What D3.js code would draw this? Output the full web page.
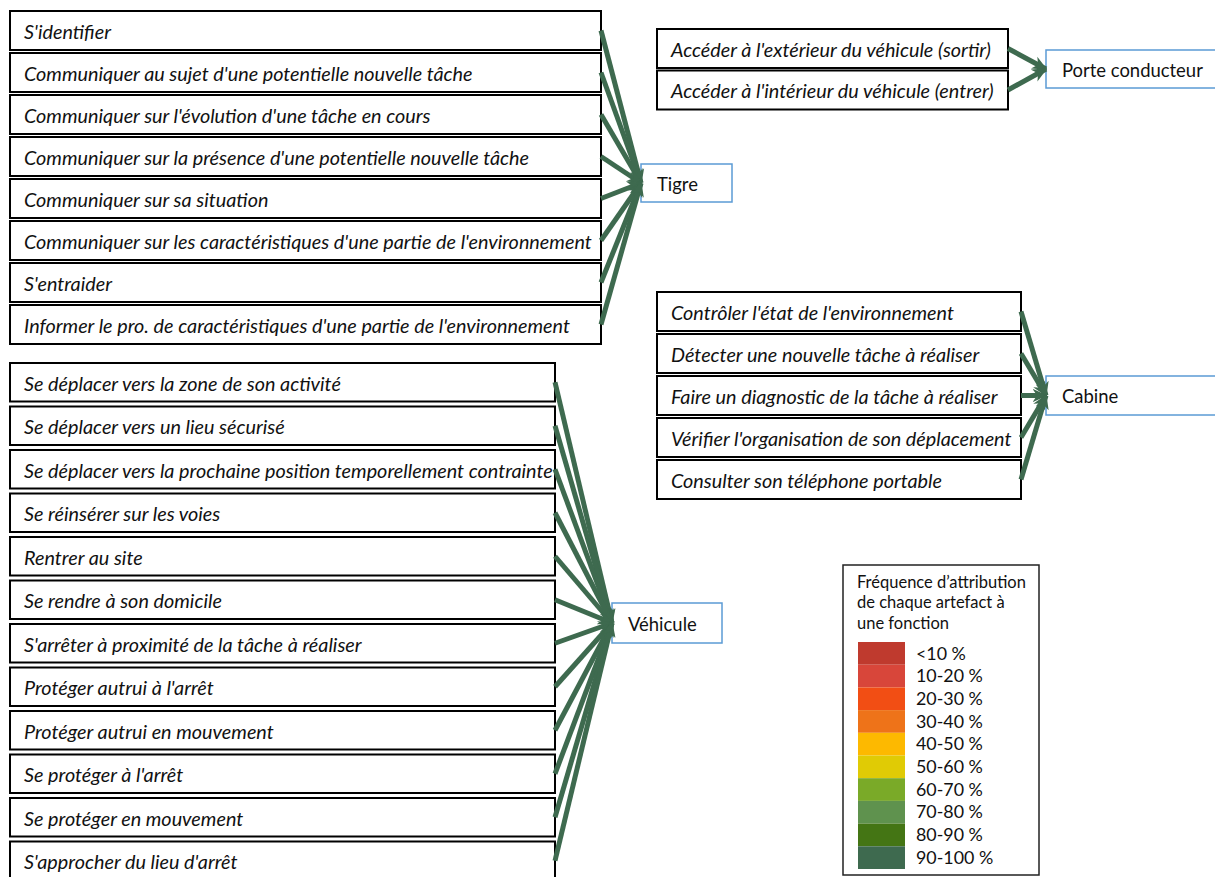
<!DOCTYPE html>
<html>
<head>
<meta charset="utf-8">
<script src="https://cdn.jsdelivr.net/npm/d3@7"></script>
<style>
  body { margin: 0; background: #fff; }
  svg { display: block; }
</style>
</head>
<body>
<div id="chart"></div>
<script>
// functions attributed to each artefact
const tigreFunctions = [
  "S'identifier",
  "Communiquer au sujet d'une potentielle nouvelle tâche",
  "Communiquer sur l'évolution d'une tâche en cours",
  "Communiquer sur la présence d'une potentielle nouvelle tâche",
  "Communiquer sur sa situation",
  "Communiquer sur les caractéristiques d'une partie de l'environnement",
  "S'entraider",
  "Informer le pro. de caractéristiques d'une partie de l'environnement"
];
const vehiculeFunctions = [
  "Se déplacer vers la zone de son activité",
  "Se déplacer vers un lieu sécurisé",
  "Se déplacer vers la prochaine position temporellement contrainte",
  "Se réinsérer sur les voies",
  "Rentrer au site",
  "Se rendre à son domicile",
  "S'arrêter à proximité de la tâche à réaliser",
  "Protéger autrui à l'arrêt",
  "Protéger autrui en mouvement",
  "Se protéger à l'arrêt",
  "Se protéger en mouvement",
  "S'approcher du lieu d'arrêt"
];
const porteFunctions = [
  "Accéder à l'extérieur du véhicule (sortir)",
  "Accéder à l'intérieur du véhicule (entrer)"
];
const cabineFunctions = [
  "Contrôler l'état de l'environnement",
  "Détecter une nouvelle tâche à réaliser",
  "Faire un diagnostic de la tâche à réaliser",
  "Vérifier l'organisation de son déplacement",
  "Consulter son téléphone portable"
];

// attribution frequency (%) of each link, all in the top class
const tigreFreq    = [95, 95, 95, 95, 95, 95, 95, 95];
const vehiculeFreq = [95, 95, 95, 95, 95, 95, 95, 95, 95, 95, 95, 95];
const porteFreq    = [95, 95];
const cabineFreq   = [95, 95, 95, 95, 95];

const artefacts = ["Tigre", "Véhicule", "Porte conducteur", "Cabine"];

// legend classes
const legendLabels = ["<10 %", "10-20 %", "20-30 %", "30-40 %", "40-50 %",
                      "50-60 %", "60-70 %", "70-80 %", "80-90 %", "90-100 %"];
const legendColors = ["#bf3a2e", "#d8463a", "#f24e14", "#ee7319", "#fdb900",
                      "#e0cb05", "#7aaa28", "#5f924e", "#447514", "#3e6a4f"];
const legendTitle = ["Fréquence d\u2019attribution", "de chaque artefact à", "une fonction"];

const W = 1215, H = 877;
const freqColor = d3.scaleThreshold()
    .domain([10, 20, 30, 40, 50, 60, 70, 80, 90])
    .range(legendColors);

const svg = d3.select("#chart").append("svg")
    .attr("width", W)
    .attr("height", H);

const fontFam = "Lato, 'Open Sans', sans-serif";

// measure helper, used to size the font like the original
function textWidth(str, size, style) {
  const t = svg.append("text")
      .style("font-family", fontFam)
      .style("font-style", style)
      .style("font-size", size + "px")
      .text(str);
  const w = t.node().getComputedTextLength();
  t.remove();
  return w;
}
const boxFont = 16 * 568 / textWidth(tigreFunctions[5], 16, "italic");
const artFont = 16 * 141 / textWidth(artefacts[2], 16, "normal");
const legendFont = 14 * 169 / textWidth(legendTitle[0], 14, "normal");

// arrow head
const defs = svg.append("defs");
defs.append("marker")
    .attr("id", "head")
    .attr("viewBox", "0 0 10 10")
    .attr("refX", 9)
    .attr("refY", 5)
    .attr("markerUnits", "userSpaceOnUse")
    .attr("markerWidth", 15)
    .attr("markerHeight", 15)
    .attr("orient", "auto")
  .append("path")
    .attr("d", "M0,0.5 L10,5 L0,9.5 L3,5 Z")
    .attr("fill", legendColors[9]);

// groups: list of functions linking to one artefact box
const groups = [
  { items: tigreFunctions, freq: tigreFreq, artefact: artefacts[0],
    x: 10, w: 591, top: 11, step: 42, bh: 39,
    box: { x: 641, y: 164, w: 91, h: 38 } },
  { items: vehiculeFunctions, freq: vehiculeFreq, artefact: artefacts[1],
    x: 10, w: 545, top: 363, step: 43.5, bh: 38.5,
    box: { x: 612, y: 603, w: 110, h: 40 } },
  { items: porteFunctions, freq: porteFreq, artefact: artefacts[2],
    x: 657, w: 351, top: 29, step: 41.5, bh: 39,
    box: { x: 1046, y: 50, w: 200, h: 38 } },
  { items: cabineFunctions, freq: cabineFreq, artefact: artefacts[3],
    x: 657, w: 364, top: 292, step: 42, bh: 39,
    box: { x: 1046, y: 376, w: 200, h: 39 } }
];

groups.forEach(gr => {
  const n = gr.items.length;
  const y = d3.scaleBand()
      .domain(gr.items)
      .range([gr.top, gr.top + gr.step * n - (gr.step - gr.bh)])
      .paddingInner((gr.step - gr.bh) / gr.step)
      .paddingOuter(0);

  const g = svg.append("g");

  const rows = g.selectAll("g.row")
      .data(gr.items)
      .join("g")
      .attr("class", "row");

  rows.append("rect")
      .attr("x", gr.x)
      .attr("y", d => y(d))
      .attr("width", gr.w)
      .attr("height", y.bandwidth())
      .attr("fill", "#fff")
      .attr("stroke", "#000")
      .attr("stroke-width", 2);

  rows.append("text")
      .attr("x", gr.x + 14)
      .attr("y", d => y(d) + y.bandwidth() / 2 + 1.5)
      .attr("dy", "0.35em")
      .style("font-family", fontFam)
      .style("font-style", "italic")
      .style("font-size", boxFont + "px")
      .attr("fill", "#111")
      .text(d => d);

  // artefact box
  const b = gr.box;
  g.append("rect")
      .attr("x", b.x)
      .attr("y", b.y)
      .attr("width", b.w)
      .attr("height", b.h)
      .attr("fill", "#fff")
      .attr("stroke", "#5b9bd5")
      .attr("stroke-width", 1.5);
  g.append("text")
      .attr("x", b.x + 16)
      .attr("y", b.y + b.h / 2 + 1.5)
      .attr("dy", "0.35em")
      .style("font-family", fontFam)
      .style("font-size", artFont + "px")
      .attr("fill", "#111")
      .text(gr.artefact);

  // links
  const tx = b.x, ty = b.y + b.h / 2;
  g.selectAll("line.link")
      .data(gr.items)
      .join("line")
      .attr("class", "link")
      .attr("x1", gr.x + gr.w)
      .attr("y1", d => y(d) + y.bandwidth() / 2)
      .attr("x2", tx)
      .attr("y2", ty)
      .attr("stroke", (d, i) => freqColor(gr.freq[i]))
      .attr("stroke-width", 5)
      .attr("marker-end", "url(#head)");
});

// legend
const leg = svg.append("g").attr("transform", "translate(843,565)");
leg.append("rect")
    .attr("width", 196)
    .attr("height", 310)
    .attr("fill", "#fff")
    .attr("stroke", "#222")
    .attr("stroke-width", 1.5);

leg.selectAll("text.title")
    .data(legendTitle)
    .join("text")
    .attr("class", "title")
    .attr("x", 14)
    .attr("y", (d, i) => 17 + i * 20.5)
    .attr("dy", "0.35em")
    .style("font-family", fontFam)
    .style("font-size", legendFont + "px")
    .attr("fill", "#111")
    .text(d => d);

const ly = d3.scaleBand()
    .domain(legendLabels)
    .range([77, 304]);

leg.selectAll("rect.sw")
    .data(legendLabels)
    .join("rect")
    .attr("class", "sw")
    .attr("x", 15)
    .attr("y", d => ly(d))
    .attr("width", 47)
    .attr("height", ly.bandwidth())
    .attr("fill", (d, i) => legendColors[i]);

leg.selectAll("text.lab")
    .data(legendLabels)
    .join("text")
    .attr("class", "lab")
    .attr("x", 73)
    .attr("y", d => ly(d) + ly.bandwidth() / 2)
    .attr("dy", "0.35em")
    .style("font-family", fontFam)
    .style("font-size", (legendFont * 1.08) + "px")
    .attr("fill", "#111")
    .text(d => d);
</script>
</body>
</html>
